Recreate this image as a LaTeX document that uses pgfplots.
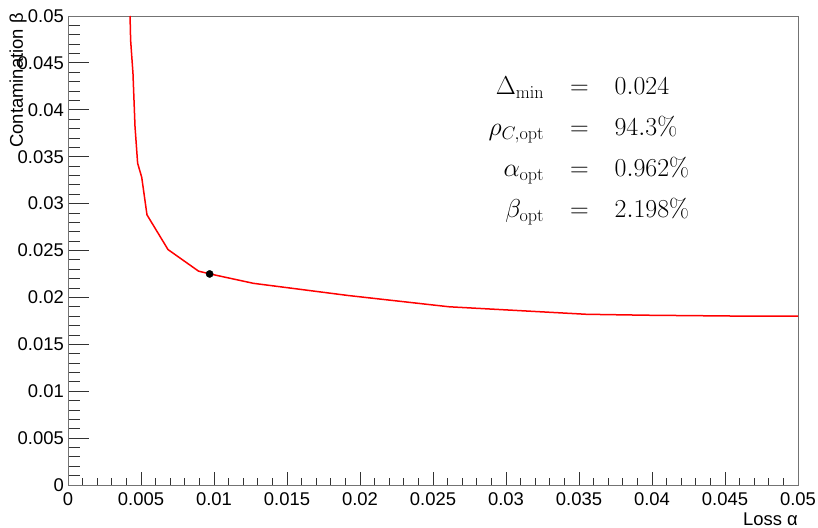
\documentclass[border=0pt]{standalone}
\usepackage{fix-cm}
\usepackage[no-math]{fontspec}
\setmainfont{Liberation Sans}
\usepackage{pgfplots}
\pgfplotsset{compat=1.18}
\begin{document}
\begin{tikzpicture}
\useasboundingbox (0,0) rectangle (818bp,528bp);
\begin{axis}[
  at={(68bp,43bp)}, anchor=south west,
  scale only axis, width=730bp, height=469bp,
  xmin=0, xmax=0.05, ymin=0, ymax=0.05,
  scaled ticks=false,
  xtick={0,0.005,...,0.0501}, ytick={0,0.005,...,0.0501},
  xticklabels={0,0.005,0.01,0.015,0.02,0.025,0.03,0.035,0.04,0.045,0.05},
  yticklabels={0,0.005,0.01,0.015,0.02,0.025,0.03,0.035,0.04,0.045,0.05},
  minor tick num=4,
  tick pos=left, tick align=inside,
  axis line style={black!55, line width=0.9bp},
  tick style={black!80, line width=0.8bp},
  xtick style={/pgfplots/major tick length=13bp, /pgfplots/minor tick length=7bp},
  ytick style={/pgfplots/major tick length=21bp, /pgfplots/minor tick length=12bp},
  ticklabel style={font=\fontsize{18.5}{22}\selectfont, inner sep=0pt},
  xticklabel style={yshift=-7bp},
  yticklabel style={xshift=-4bp},
  xlabel={Loss α}, ylabel={Contamination β},
  label style={font=\fontsize{18.5}{22}\selectfont, inner sep=0pt},
  xlabel style={at={([yshift=-40bp]rel axis cs:1,0)}, anchor=base east},
  ylabel style={at={([xshift=-50bp,yshift=3bp]rel axis cs:0,1)}, anchor=east},
  clip=true,
]
\addplot[red, line width=1.5bp] coordinates {
(0.00425,0.0500)
(0.00429,0.0474)
(0.00445,0.0439)
(0.00459,0.0382)
(0.00477,0.0343)
(0.00505,0.0328)
(0.00541,0.0288)
(0.00685,0.0251)
(0.00894,0.0228)
(0.00973,0.0225)
(0.0127,0.0215)
(0.0192,0.0202)
(0.0261,0.0190)
(0.0355,0.0182)
(0.0396,0.0181)
(0.0465,0.0180)
(0.0500,0.0180)
};
\addplot[only marks, mark=*, mark size=3.6bp, black] coordinates {(0.0097,0.0225)};
\node[anchor=center, inner sep=0pt, font=\fontsize{26}{41}\selectfont] at (axis cs:0.03568,0.03593)
 {$\renewcommand{\arraystretch}{1}\begin{array}{r@{\quad=\quad}l}
 \Delta_{\mathrm{min}} & 0.024\\
 \rho_{C,\mathrm{opt}} & 94.3\%\\
 \alpha_{\mathrm{opt}} & 0.962\%\\
 \beta_{\mathrm{opt}} & 2.198\%
 \end{array}$};
\end{axis}
\end{tikzpicture}
\end{document}
